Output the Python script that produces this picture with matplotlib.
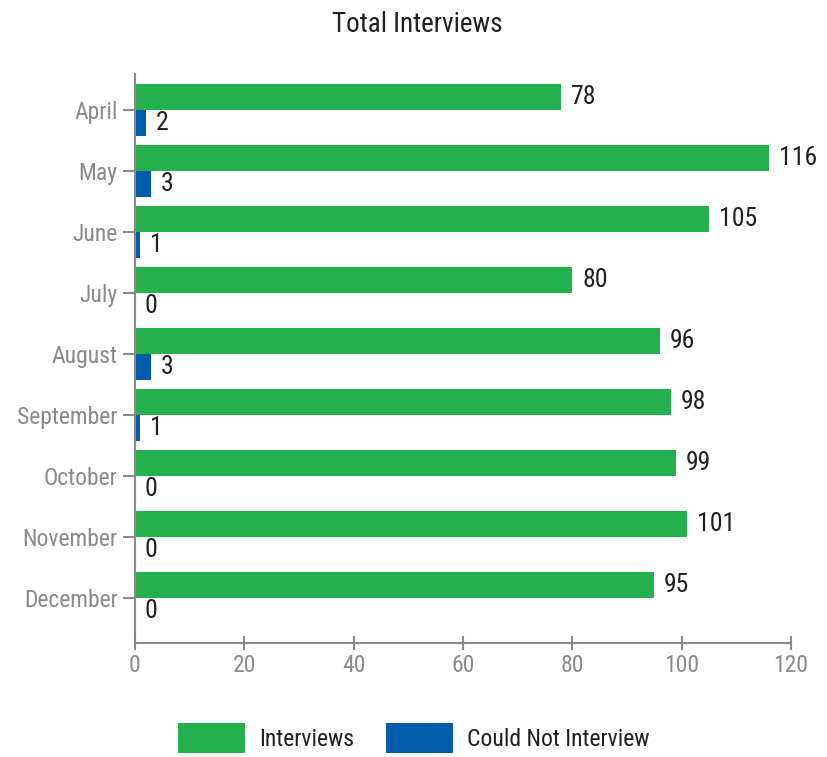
import matplotlib
matplotlib.use("Agg")
import matplotlib.pyplot as plt
import numpy as np

### ------------------------------ Data ------------------------------ ###

months = ["April", "May", "June", "July", "August", "September",
          "October", "November", "December"]
interviews = [78, 116, 105, 80, 96, 98, 99, 101, 95]
could_not = [2, 3, 1, 0, 3, 1, 0, 0, 0]

GREEN = "#23B04D"
BLUE = "#005BAA"
GRAY = "#8a8a8e"
DARK = "#231f20"

plt.rcParams['font.family'] = ['Roboto Condensed', 'DejaVu Sans']

### ------------------------------ Figure ------------------------------ ###

fig = plt.figure(figsize=(8.27, 7.57), dpi=100)
ax = fig.add_axes([0.1632, 0.1506, 0.7933, 0.7516])

y = np.arange(len(months))
h = 0.426
ax.barh(y - h / 2, interviews, height=h, color=GREEN, label="Interviews")
ax.barh(y + h / 2, could_not, height=h, color=BLUE, label="Could Not Interview")

# value labels just past the bar ends
for yi, v in zip(y, interviews):
    ax.annotate(str(v), (v, yi - h / 2), xytext=(7, 0), textcoords="offset points",
                va="center", ha="left", fontsize=18.5, color=DARK)
for yi, v in zip(y, could_not):
    ax.annotate(str(v), (v, yi + h / 2), xytext=(7, 0), textcoords="offset points",
                va="center", ha="left", fontsize=18.5, color=DARK)

ax.set_xlim(0, 120)
ax.set_ylim(8.74, -0.59)
ax.set_xticks(range(0, 121, 20))
ax.set_yticks(y)
ax.set_yticklabels(months)

for side in ["top", "right"]:
    ax.spines[side].set_visible(False)
for side in ["left", "bottom"]:
    ax.spines[side].set_color(GRAY)
    ax.spines[side].set_linewidth(1.5)

ax.tick_params(axis="y", length=9, width=1.5, color=GRAY, labelcolor=GRAY,
               labelsize=17, pad=3.5)
ax.tick_params(axis="x", direction="inout", length=10, width=1.5, color=GRAY,
               labelcolor=GRAY, labelsize=17, pad=3)

fig.text(0.505, 0.968, "Total Interviews", ha="center", va="center",
         fontsize=19.5, color=DARK)

fig.legend(loc="center", bbox_to_anchor=(0.5, 0.025), ncol=2, frameon=False,
           fontsize=17, handlelength=2.84, handleheight=1.6, columnspacing=1.36,
           handletextpad=0.59, labelcolor=DARK)

fig.savefig("out.png", dpi=100)
